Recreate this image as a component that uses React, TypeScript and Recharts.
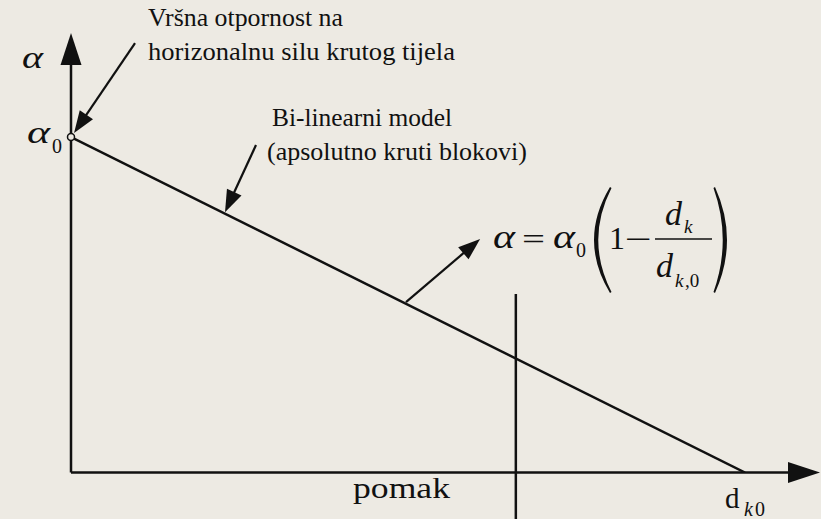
import { LineChart, Line, XAxis, YAxis, ReferenceLine, ReferenceDot } from 'recharts';

// displacement (pomak) normalised to d_k0, resistance normalised to alpha_0
const pomakValues = [0, 1];
const alphaValues = [1, 0];

const X_MAX = 1.1113;
const Y_MAX = 1.31;
const MARKER_X = 0.66;

// annotation arrows: [from, to] in data coordinates
const peakArrow = [{ x: 0.095, y: 1.28 }, { x: 0.0045, y: 1.012 }];
const modelArrow = [{ x: 0.2745, y: 0.976 }, { x: 0.2285, y: 0.776 }];
const formulaArrow = [{ x: 0.497, y: 0.508 }, { x: 0.607, y: 0.696 }];

const BG = '#edeae3';
const INK = '#111';
const SERIF =
  "'Liberation Serif', 'Times New Roman', Times, 'Nimbus Roman', FreeSerif, 'Noto Serif', 'DejaVu Serif', serif";

const data = pomakValues.map((p, i) => ({ pomak: p, alpha: alphaValues[i] }));

const arrowShape = (len: number, half: number, width: number) => (props: any) => {
  const { x1, y1, x2, y2 } = props;
  const dx = x2 - x1;
  const dy = y2 - y1;
  const d = Math.hypot(dx, dy) || 1;
  const ux = dx / d;
  const uy = dy / d;
  const bx = x2 - ux * len;
  const by = y2 - uy * len;
  const px = -uy * half;
  const py = ux * half;
  return (
    <g>
      <line x1={x1} y1={y1} x2={bx + ux * 2} y2={by + uy * 2} stroke={INK} strokeWidth={width} />
      <polygon points={`${x2},${y2} ${bx + px},${by + py} ${bx - px},${by - py}`} fill={INK} />
    </g>
  );
};

const plainLine = (props: any) => (
  <line x1={props.x1} y1={props.y1} x2={props.x2} y2={props.y2} stroke={INK} strokeWidth={2.5} />
);

function T(props: any) {
  const { children, italic, ...rest } = props;
  return (
    <text
      {...rest}
      fill={INK}
      style={{ fontFamily: SERIF, fontStyle: italic ? 'italic' : 'normal' }}
      lengthAdjust={rest.textLength ? 'spacingAndGlyphs' : undefined}
    >
      {children}
    </text>
  );
}

function Labels() {
  return (
    <svg width={821} height={519} style={{ position: 'absolute', left: 0, top: 0, pointerEvents: 'none' }}>
      <T x={148} y={26} fontSize={26} textLength={195}>Vršna otpornost na</T>
      <T x={148} y={60} fontSize={26} textLength={307}>horizonalnu silu krutog tijela</T>
      <T x={272} y={126} fontSize={26} textLength={180}>Bi-linearni model</T>
      <T x={267} y={160} fontSize={26} textLength={260}>(apsolutno kruti blokovi)</T>

      <T x={22} y={68} fontSize={32} italic textLength={21}>α</T>
      <T x={27} y={143} fontSize={32} italic textLength={23}>α</T>
      <T x={52} y={153} fontSize={20}>0</T>

      <T x={353} y={498} fontSize={30} textLength={97}>pomak</T>
      <T x={725} y={508} fontSize={29}>d</T>
      <T x={744} y={516} fontSize={20} italic>k</T>
      <T x={755} y={516} fontSize={20}>0</T>

      {/* formula */}
      <T x={493} y={248} fontSize={34} italic textLength={22}>α</T>
      <T x={522} y={249} fontSize={30} textLength={23}>=</T>
      <T x={553} y={248} fontSize={34} italic textLength={22}>α</T>
      <T x={576} y={257} fontSize={20}>0</T>
      <path d="M 610 187 Q 578 240 610 293 L 611.5 292 Q 585 240 611.5 188 Z" fill={INK} />
      <T x={609} y={249} fontSize={32}>1</T>
      <T x={625} y={249} fontSize={30} textLength={27}>−</T>
      <line x1={655} y1={239} x2={712} y2={239} stroke={INK} strokeWidth={1.5} />
      <T x={665} y={225} fontSize={34} italic>d</T>
      <T x={684} y={233} fontSize={19} italic>k</T>
      <T x={656} y={277} fontSize={34} italic>d</T>
      <T x={675} y={287} fontSize={19} italic>k</T>
      <T x={685} y={287} fontSize={19}>,0</T>
      <path d="M 715 187 Q 739 240 715 293 L 713.5 292 Q 732 240 713.5 188 Z" fill={INK} />
    </svg>
  );
}

export default function App() {
  return (
    <div style={{ position: 'absolute', left: 0, top: 0, width: 821, height: 519, background: BG }}>
      <LineChart width={821} height={519} data={data} margin={{ top: 33, right: 1, bottom: 46.5, left: 71 }}>
        <XAxis dataKey="pomak" type="number" domain={[0, X_MAX]} allowDataOverflow hide />
        <YAxis type="number" domain={[0, Y_MAX]} allowDataOverflow hide />

        {/* axes with arrowheads */}
        <ReferenceLine segment={[{ x: 0, y: 0 }, { x: X_MAX, y: 0 }]} ifOverflow="visible" shape={arrowShape(32, 10.5, 2.5)} />
        <ReferenceLine segment={[{ x: 0, y: 0 }, { x: 0, y: Y_MAX }]} ifOverflow="visible" shape={arrowShape(32, 10.5, 2.5)} />

        <ReferenceLine segment={[{ x: MARKER_X, y: 0.532 }, { x: MARKER_X, y: -0.2 }]} ifOverflow="visible" shape={plainLine} />

        <Line dataKey="alpha" stroke={INK} strokeWidth={2.5} dot={false} isAnimationActive={false} />

        <ReferenceLine segment={peakArrow} ifOverflow="visible" shape={arrowShape(22, 8, 2.2)} />
        <ReferenceLine segment={modelArrow} ifOverflow="visible" shape={arrowShape(22, 8, 2.2)} />
        <ReferenceLine segment={formulaArrow} ifOverflow="visible" shape={arrowShape(22, 8, 2.2)} />

        <ReferenceDot x={0} y={1} r={3.5} fill={BG} stroke={INK} strokeWidth={1.5} ifOverflow="visible" />
      </LineChart>
      <Labels />
    </div>
  );
}
